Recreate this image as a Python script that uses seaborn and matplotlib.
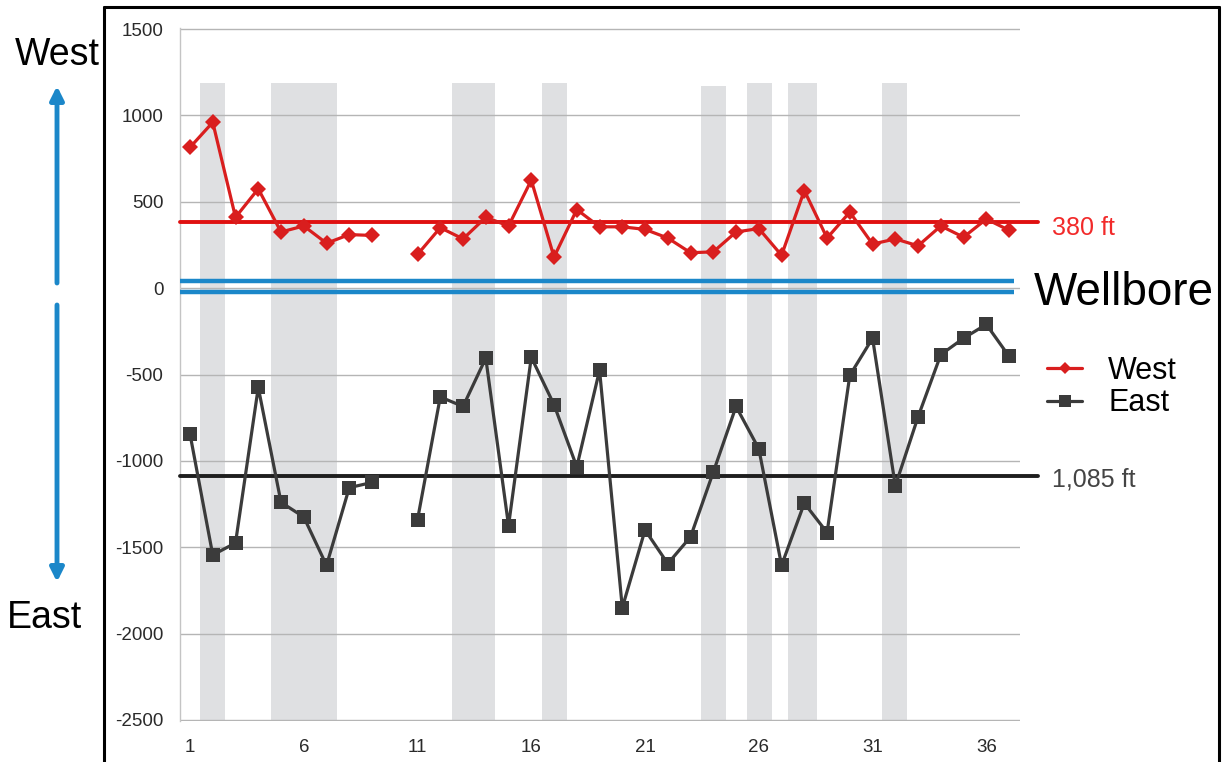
import numpy as np
import pandas as pd
import matplotlib
matplotlib.use("Agg")
import matplotlib.pyplot as plt
import seaborn as sns
from matplotlib.lines import Line2D
from matplotlib.patches import FancyArrowPatch

# ---------------- data ----------------
wells = list(range(1, 38))
west = [815, 960, 410, 575, 325, 360, 260, 310, 305, np.nan,
        195, 350, 285, 410, 360, 625, 180, 455, 355, 355,
        340, 290, 205, 210, 325, 345, 190, 565, 290, 440,
        255, 285, 245, 360, 295, 400, 335]
east = [-845, -1545, -1475, -575, -1240, -1325, -1605, -1155, -1125, np.nan,
        -1340, -630, -685, -405, -1375, -400, -675, -1035, -475, -1850,
        -1400, -1595, -1440, -1065, -685, -930, -1605, -1245, -1415, -505,
        -290, -1145, -745, -385, -290, -210, -395]
west_mean = 380
east_mean = -1085
west_mean_label = "380 ft"
east_mean_label = "1,085 ft"
wellbore_edges = [40, -20]
band_start = [1.45, 4.55, 12.5, 16.45, 23.45, 25.5, 27.3, 31.4]
band_end = [2.55, 7.45, 14.4, 17.55, 24.55, 26.6, 28.55, 32.5]
band_top = [1190, 1190, 1190, 1190, 1170, 1190, 1190, 1190]
band_bottom = -2500
xticks = [1, 6, 11, 16, 21, 26, 31, 36]
yticks = [-2500, -2000, -1500, -1000, -500, 0, 500, 1000, 1500]

# ---------------- style ----------------
sns.set_style("white")
plt.rcParams["font.family"] = ["Liberation Sans", "DejaVu Sans"]
plt.rcParams["axes.unicode_minus"] = False
plt.rcParams["text.color"] = "black"

RED = "#d91e1e"
RED_TXT = "#f22a2a"
DARK = "#3b3b3b"
BLUE = "#1b87c9"
BAND = "#dfe0e2"

W, H = 1223, 762
fig = plt.figure(figsize=(W / 100, H / 100), dpi=100)
fig.patch.set_facecolor("white")

def fx(px):
    return px / W

def fy(py):
    return 1 - py / H

ax = fig.add_axes([fx(180), fy(721), fx(1020) - fx(180), fy(28) - fy(721)])

# shaded bands
for s, e, t in zip(band_start, band_end, band_top):
    ax.bar(s, t - band_bottom, width=e - s, bottom=band_bottom, align="edge",
           color=BAND, edgecolor="none", zorder=0.5)

# series
df = pd.DataFrame({
    "well": wells * 2,
    "offset": west + east,
    "side": ["West"] * len(wells) + ["East"] * len(wells),
})
df["seg"] = (df["well"] > 10).astype(int)
df = df.dropna()

sns.lineplot(data=df[df.side == "West"], x="well", y="offset", units="seg",
             estimator=None, color=RED, marker="D", markersize=8,
             markeredgewidth=0, linewidth=2.3, legend=False, ax=ax, zorder=4)
sns.lineplot(data=df[df.side == "East"], x="well", y="offset", units="seg",
             estimator=None, color=DARK, marker="s", markersize=10,
             markeredgewidth=0, linewidth=2.3, legend=False, ax=ax, zorder=4)

ax.set_xlim(0.56, 37.48)
ax.set_ylim(-2506, 1506)

# mean lines
ax.plot([0.56, 38.27], [west_mean, west_mean], color="#e01010", lw=2.8,
        clip_on=False, zorder=3)
ax.plot([0.56, 38.27], [east_mean, east_mean], color="#1e1e1e", lw=2.8,
        clip_on=False, zorder=3)
# wellbore
for yv in wellbore_edges:
    ax.plot([0.56, 37.2], [yv, yv], color=BLUE, lw=3.2, zorder=3,
            solid_capstyle="butt")

# axes cosmetics
ax.set_xticks(xticks)
ax.set_yticks(yticks)
ax.set_xlabel("")
ax.set_ylabel("")
tick_font = ["Liberation Sans Narrow", "Liberation Sans"]
for lab in ax.get_xticklabels() + ax.get_yticklabels():
    lab.set_family(tick_font)
    lab.set_fontsize(13.5)
    lab.set_color("#2a2a2a")
ax.tick_params(axis="both", length=0)
ax.tick_params(axis="y", pad=12)
ax.tick_params(axis="x", pad=13)
ax.yaxis.grid(True, color="#b5b5b5", lw=1.0)
ax.xaxis.grid(False)
ax.set_axisbelow("line")
for sp in ["top", "right", "bottom"]:
    ax.spines[sp].set_visible(False)
ax.spines["left"].set_color("#c4c4c4")
ax.spines["left"].set_linewidth(1.0)

# mean labels & wellbore
fig.text(fx(1052), fy(235), west_mean_label, color=RED_TXT, fontsize=18,
         ha="left", va="baseline")
fig.text(fx(1052), fy(486), east_mean_label, color="#444444", fontsize=18,
         ha="left", va="baseline")
fig.text(fx(1034), fy(305), "Wellbore", color="black", fontsize=33,
         ha="left", va="baseline")

# legend
handles = [Line2D([], [], color=RED, marker="D", markersize=6, lw=2.3,
                  markeredgewidth=0),
           Line2D([], [], color=DARK, marker="s", markersize=8, lw=2.3,
                  markeredgewidth=0)]
leg = fig.legend(handles=handles, labels=["West", "East"], loc="center left",
                 bbox_to_anchor=(fx(1047), fy(387)), frameon=False,
                 fontsize=22, handlelength=1.15, handletextpad=0.85,
                 labelspacing=0.08, borderpad=0, borderaxespad=0)
for t in leg.get_texts():
    t.set_color("black")

# left direction indicators
fig.text(fx(57), fy(65), "West", fontsize=27, ha="center", va="baseline",
         color="black")
fig.text(fx(45), fy(628), "East", fontsize=27, ha="center", va="baseline",
         color="black")
up = FancyArrowPatch((fx(57), fy(283)), (fx(57), fy(86)),
                     transform=fig.transFigure, arrowstyle="-|>",
                     mutation_scale=20, color=BLUE, lw=3.5,
                     shrinkA=0, shrinkB=0)
down = FancyArrowPatch((fx(57), fy(305)), (fx(57), fy(582)),
                       transform=fig.transFigure, arrowstyle="-|>",
                       mutation_scale=20, color=BLUE, lw=3.5,
                       shrinkA=0, shrinkB=0)
fig.add_artist(up)
fig.add_artist(down)

# outer frame (open at the bottom)
frame_kw = dict(color="black", lw=2.2, transform=fig.transFigure)
fig.add_artist(Line2D([fx(104), fx(104)], [fy(7), 0], **frame_kw))
fig.add_artist(Line2D([fx(104), fx(1219)], [fy(7), fy(7)], **frame_kw))
fig.add_artist(Line2D([fx(1219), fx(1219)], [fy(7), 0], **frame_kw))

fig.savefig("out.png", dpi=100, facecolor="white")
